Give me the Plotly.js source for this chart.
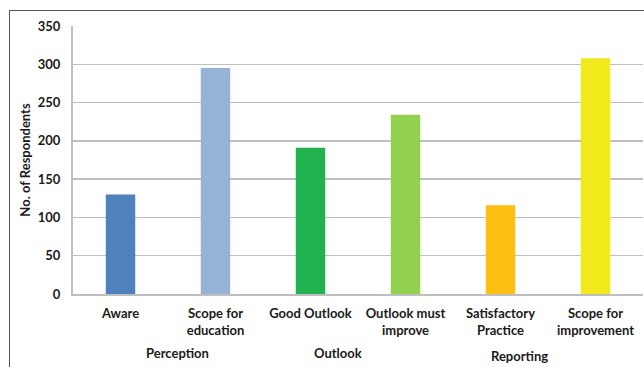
<!DOCTYPE html>
<html>
<head>
<meta charset="utf-8">
<script src="https://cdn.plot.ly/plotly-3.0.1.min.js"></script>
<style>
html,body{margin:0;padding:0;background:#fff;}
#wrap{position:relative;width:644px;height:367px;overflow:hidden;}
#chart{width:644px;height:367px;}
#frame{position:absolute;left:9px;top:10px;width:700px;height:400px;border-left:1.5px solid #555;border-top:1.5px solid #555;pointer-events:none;}
</style>
</head>
<body>
<div id="wrap"><div id="chart"></div><div id="frame"></div></div>
<script>
const categories = ["Aware", "Scope for<br>education", "Good Outlook", "Outlook must<br>improve", "Satisfactory<br>Practice", "Scope for<br>improvement"];
const values = [130, 295, 191, 234, 116, 308];
const barColors = ["#4F81BD", "#95B3D7", "#21B14F", "#92D050", "#FDBF12", "#F2E91A"];
const groupLabels = ["Perception", "Outlook", "Reporting"];
const groupPositions = [0.6, 2.29, 4.2];
const groupY = [-0.22, -0.22, -0.23];
const yTicks = [0, 50, 100, 150, 200, 250, 300, 350];

const font = {family: "Lato, 'Open Sans', sans-serif", size: 13, color: "#1a1a1a", weight: 700};

const trace = {
  type: "bar",
  x: categories.map((c, i) => i),
  y: values,
  marker: {color: barColors, line: {width: 0}},
  width: 0.31,
  hoverinfo: "skip"
};

const annotations = groupLabels.map((g, i) => ({
  text: g, x: groupPositions[i], xref: "x", y: groupY[i], yref: "paper",
  showarrow: false, xanchor: "center", yanchor: "middle", font: font
}));

const layout = {
  width: 644, height: 367,
  margin: {l: 73, r: 1, t: 26, b: 73},
  paper_bgcolor: "#fff", plot_bgcolor: "#fff",
  showlegend: false,
  font: font,
  xaxis: {
    range: [-0.5, 5.5],
    tickmode: "array", tickvals: categories.map((c, i) => i), ticktext: categories,
    showgrid: false, zeroline: false, showline: true, linecolor: "#bfbfbf", linewidth: 2,
    ticks: "", tickfont: font, ticklabelstandoff: 6
  },
  yaxis: {
    range: [0, 350], tickmode: "array", tickvals: yTicks,
    showgrid: true, gridcolor: "#bfbfbf", gridwidth: 1.5,
    zeroline: false, showline: true, linecolor: "#bfbfbf", linewidth: 2,
    ticks: "", tickfont: font, ticklabelstandoff: 8,
    title: {text: "No. of Respondents", font: font, standoff: 4}
  },
  annotations: annotations
};

Plotly.newPlot("chart", [trace], layout, {staticPlot: true, displayModeBar: false});
</script>
</body>
</html>
